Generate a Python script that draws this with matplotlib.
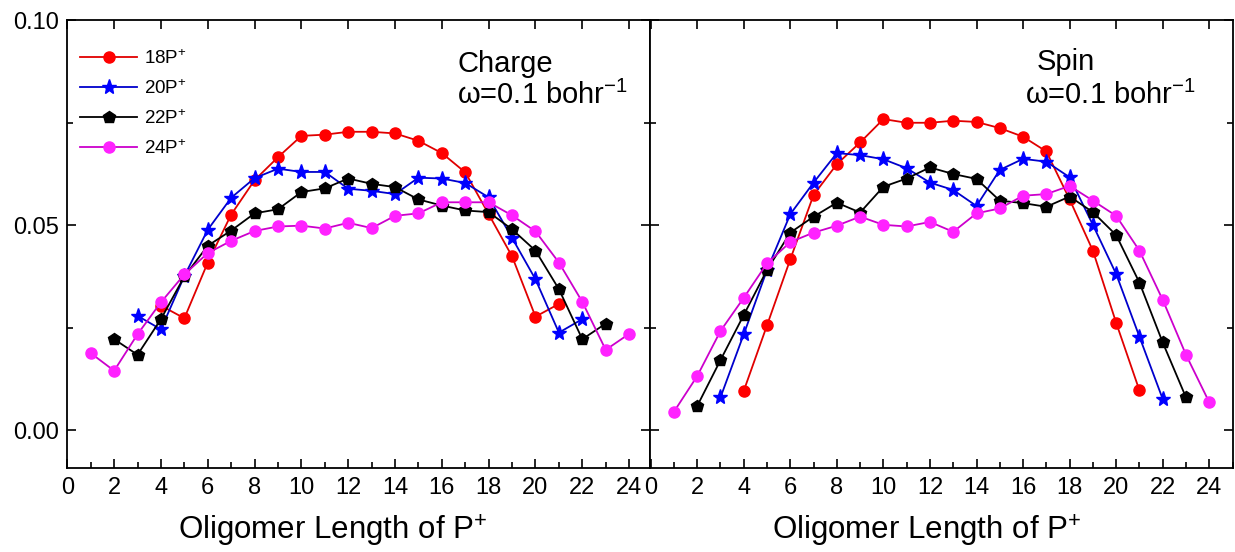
import matplotlib
matplotlib.use("Agg")
import matplotlib.pyplot as plt
from matplotlib.ticker import MultipleLocator, FormatStrFormatter

plt.rcParams['font.family'] = ['Liberation Sans', 'DejaVu Sans']
plt.rcParams['mathtext.fontset'] = 'custom'
plt.rcParams['mathtext.rm'] = 'Liberation Sans'
plt.rcParams['mathtext.it'] = 'Liberation Sans:italic'

# oligomer positions for each chain length
pos_18 = list(range(4, 22))
pos_20 = list(range(3, 23))
pos_22 = list(range(2, 24))
pos_24 = list(range(1, 25))

labels = ["18P$^{+}$", "20P$^{+}$", "22P$^{+}$", "24P$^{+}$"]

# charge distribution
charge_18 = [0.0304, 0.0273, 0.0409, 0.0526, 0.0610, 0.0666, 0.0718, 0.0721, 0.0728,
             0.0728, 0.0724, 0.0706, 0.0676, 0.0629, 0.0527, 0.0424, 0.0277, 0.0308]
charge_20 = [0.0279, 0.0246, 0.0376, 0.0489, 0.0567, 0.0615, 0.0638, 0.0630, 0.0630, 0.0589,
             0.0584, 0.0576, 0.0616, 0.0614, 0.0603, 0.0568, 0.0469, 0.0368, 0.0238, 0.0271]
charge_22 = [0.0222, 0.0184, 0.0271, 0.0375, 0.0450, 0.0487, 0.0529, 0.0539, 0.0581, 0.0590, 0.0614,
             0.0601, 0.0593, 0.0563, 0.0548, 0.0536, 0.0532, 0.0490, 0.0438, 0.0344, 0.0222, 0.0260]
charge_24 = [0.0188, 0.0145, 0.0234, 0.0312, 0.0380, 0.0432, 0.0462, 0.0486, 0.0497, 0.0499, 0.0492, 0.0506,
             0.0493, 0.0523, 0.0529, 0.0556, 0.0556, 0.0556, 0.0524, 0.0485, 0.0409, 0.0313, 0.0196, 0.0235]

# spin distribution
spin_18 = [0.0096, 0.0256, 0.0417, 0.0574, 0.0649, 0.0702, 0.0759, 0.0750, 0.0750,
           0.0755, 0.0752, 0.0737, 0.0716, 0.0680, 0.0563, 0.0438, 0.0262, 0.0097]
spin_20 = [0.0080, 0.0234, 0.0391, 0.0527, 0.0604, 0.0676, 0.0671, 0.0661, 0.0639, 0.0604,
           0.0586, 0.0547, 0.0635, 0.0662, 0.0655, 0.0617, 0.0501, 0.0381, 0.0228, 0.0076]
spin_22 = [0.0059, 0.0171, 0.0281, 0.0391, 0.0482, 0.0521, 0.0555, 0.0531, 0.0594, 0.0614, 0.0641,
           0.0625, 0.0613, 0.0560, 0.0554, 0.0545, 0.0570, 0.0532, 0.0476, 0.0360, 0.0214, 0.0080]
spin_24 = [0.0045, 0.0132, 0.0242, 0.0323, 0.0407, 0.0459, 0.0482, 0.0499, 0.0521, 0.0501, 0.0497, 0.0508,
           0.0484, 0.0529, 0.0541, 0.0572, 0.0576, 0.0596, 0.0560, 0.0523, 0.0438, 0.0318, 0.0184, 0.0068]

styles = [
    dict(color='#E00000', marker='o', mfc='#FF0000', mec='#FF0000', ms=8),
    dict(color='#0000CC', marker='*', mfc='#0000FF', mec='#0000FF', ms=11),
    dict(color='black', marker='p', mfc='black', mec='black', ms=9),
    dict(color='#CC00CC', marker='o', mfc='#FF22FF', mec='#FF22FF', ms=8),
]

W, H = 1235, 552
fig = plt.figure(figsize=(W / 100, H / 100), dpi=100)
bot = (H - 468.3) / H
top = (H - 20.3) / H
ax1 = fig.add_axes([67.3 / W, bot, (649.5 - 67.3) / W, top - bot])
ax2 = fig.add_axes([649.5 / W, bot, (1233 - 649.5) / W, top - bot])

xs = [pos_18, pos_20, pos_22, pos_24]
for i, ys in enumerate([charge_18, charge_20, charge_22, charge_24]):
    ax1.plot(xs[i], ys, lw=1.3, label=labels[i], **styles[i])
for i, ys in enumerate([spin_18, spin_20, spin_22, spin_24]):
    ax2.plot(xs[i], ys, lw=1.3, **styles[i])

ax1.set_xlim(0, 24.87)
ax2.set_xlim(-0.05, 25.02)
for ax in (ax1, ax2):
    ax.set_ylim(-0.0093, 0.1)
    ax.set_xticks(range(0, 25, 2))
    ax.xaxis.set_minor_locator(MultipleLocator(1))
    ax.yaxis.set_major_locator(MultipleLocator(0.05))
    ax.yaxis.set_minor_locator(MultipleLocator(0.025))
    ax.tick_params(which='both', direction='in', top=True, right=True, width=1.2)
    ax.tick_params(which='major', length=6.5, labelsize=17, pad=6)
    ax.tick_params(which='minor', length=4)
    ax.tick_params(axis='x', which='minor', top=False)
    for s in ax.spines.values():
        s.set_linewidth(1.3)
    ax.set_xlabel("Oligomer Length of P$^{+}$", fontsize=22.5, labelpad=7)

ax1.xaxis.set_label_coords(0.455, -0.1)
ax2.xaxis.set_label_coords(0.475, -0.1)
ax1.xaxis.label.set_va('top')
ax2.xaxis.label.set_va('top')

ax1.yaxis.set_major_formatter(FormatStrFormatter('%.2f'))
ax2.tick_params(axis='y', labelleft=False)

ax1.text(16.65, 0.0874, "Charge", fontsize=21)
ax1.text(16.65, 0.0795, "ω=0.1 bohr$^{-1}$", fontsize=21)
ax2.text(16.6, 0.0879, "Spin", fontsize=21)
ax2.text(16.1, 0.0795, "ω=0.1 bohr$^{-1}$", fontsize=21)

ax1.legend(loc='upper left', bbox_to_anchor=(0.0, 0.965), frameon=False, fontsize=13.5,
           handlelength=3.0, labelspacing=0.6, handletextpad=0.4, borderaxespad=0.3)

fig.savefig("out.png", dpi=100)
